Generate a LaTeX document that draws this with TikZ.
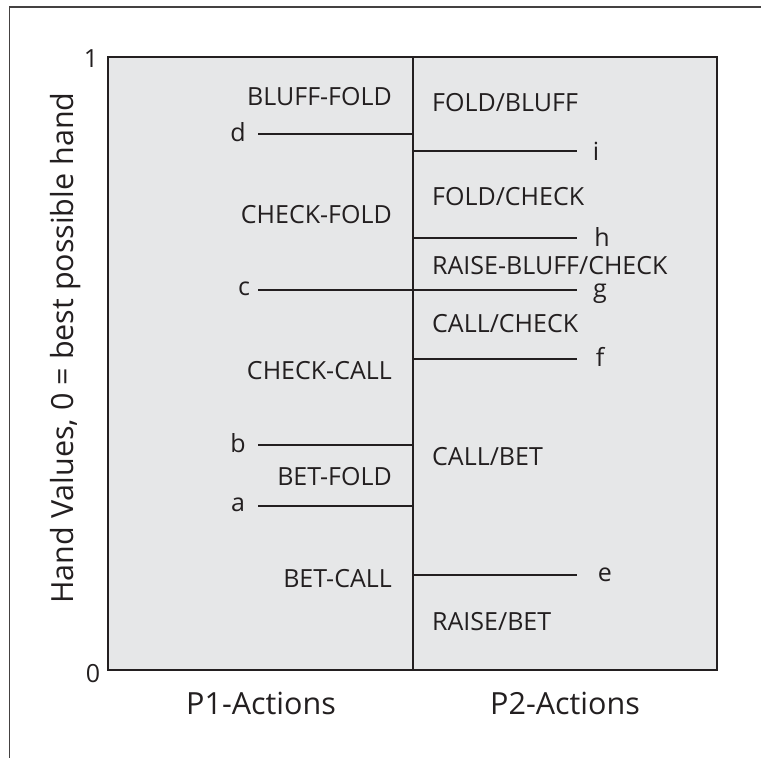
\documentclass[tikz,border=0pt]{standalone}
\usepackage{fontspec}
\setmainfont{Open Sans}
\definecolor{boxfill}{HTML}{E6E7E8}
\definecolor{ink}{HTML}{231F20}
\begin{document}
\begin{tikzpicture}[x=1pt,y=-1pt,
  lbl/.style={font=\fontsize{25}{29}\selectfont, text=ink, inner sep=0pt},
  axl/.style={font=\fontsize{30.5}{34}\selectfont, text=ink, inner sep=0pt},
  seg/.style={draw=ink, line width=1.5pt},
  frameline/.style={draw=ink!85, line width=1.5pt}]
\useasboundingbox (0,0) rectangle (761,758);
% outer frame (top and left)
\coordinate (fTR) at (761,7);
\coordinate (fTL) at (9.5,7);
\coordinate (fBL) at (9.5,758);
\draw[frameline] (fTR) -- (fTL) -- (fBL);
% main box
\coordinate (boxNW) at (108,57);
\coordinate (boxSE) at (717,670);
\draw[fill=boxfill, draw=ink, line width=2pt] (boxNW) rectangle (boxSE);
% middle divider
\coordinate (midT) at (413,57);
\coordinate (midB) at (413,670);
\draw[seg] (midT) -- (midB);
% P1 thresholds
\coordinate (dL) at (258,134); \coordinate (dR) at (413,134);
\coordinate (cL) at (258,290); \coordinate (cR) at (577,290);
\coordinate (bL) at (258,445); \coordinate (bR) at (413,445);
\coordinate (aL) at (258,506); \coordinate (aR) at (413,506);
% P2 thresholds
\coordinate (iL) at (413,151); \coordinate (iR) at (577,151);
\coordinate (hL) at (413,238); \coordinate (hR) at (577,238);
\coordinate (fL) at (413,359); \coordinate (fR) at (577,359);
\coordinate (eL) at (413,575); \coordinate (eR) at (577,575);
\draw[seg] (dL) -- (dR);
\draw[seg] (cL) -- (cR);
\draw[seg] (bL) -- (bR);
\draw[seg] (aL) -- (aR);
\draw[seg] (iL) -- (iR);
\draw[seg] (hL) -- (hR);
\draw[seg] (fL) -- (fR);
\draw[seg] (eL) -- (eR);
% threshold letters
\node[lbl] (ld) at (238,132) {d};
\node[lbl] (lc) at (244,289) {c};
\node[lbl] (lb) at (238,443) {b};
\node[lbl] (la) at (238,505) {a};
\node[lbl] (li) at (596,151) {i};
\node[lbl] (lh) at (602,237) {h};
\node[lbl] (lg) at (600,294) {g};
\node[lbl] (lf) at (600,357) {f};
\node[lbl] (le) at (605,575) {e};
% P1 region labels
\node[lbl, anchor=east] (bluffFold) at (392,97) {BLUFF-FOLD};
\node[lbl, anchor=east] (checkFold) at (392,215) {CHECK-FOLD};
\node[lbl, anchor=east] (checkCall) at (392,371) {CHECK-CALL};
\node[lbl, anchor=east] (betFold) at (392,477) {BET-FOLD};
\node[lbl, anchor=east] (betCall) at (392,579) {BET-CALL};
% P2 region labels
\node[lbl, anchor=west] (foldBluff) at (432,103) {FOLD/BLUFF};
\node[lbl, anchor=west] (foldCheck) at (432,197) {FOLD/CHECK};
\node[lbl, anchor=west] (raiseBluff) at (432,266) {RAISE-BLUFF/CHECK};
\node[lbl, anchor=west] (callCheck) at (432,324) {CALL/CHECK};
\node[lbl, anchor=west] (callBet) at (432,457) {CALL/BET};
\node[lbl, anchor=west] (raiseBet) at (432,622) {RAISE/BET};
% axis ticks
\node[lbl] (one) at (91,59) {1};
\node[lbl] (zero) at (93,674) {0};
% axis titles
\node[axl, rotate=90] (ytitle) at (66,348) {Hand Values, 0 = best possible hand};
\node[axl] (p1) at (261,703) {P1-Actions};
\node[axl] (p2) at (565,703) {P2-Actions};
\end{tikzpicture}
\end{document}
